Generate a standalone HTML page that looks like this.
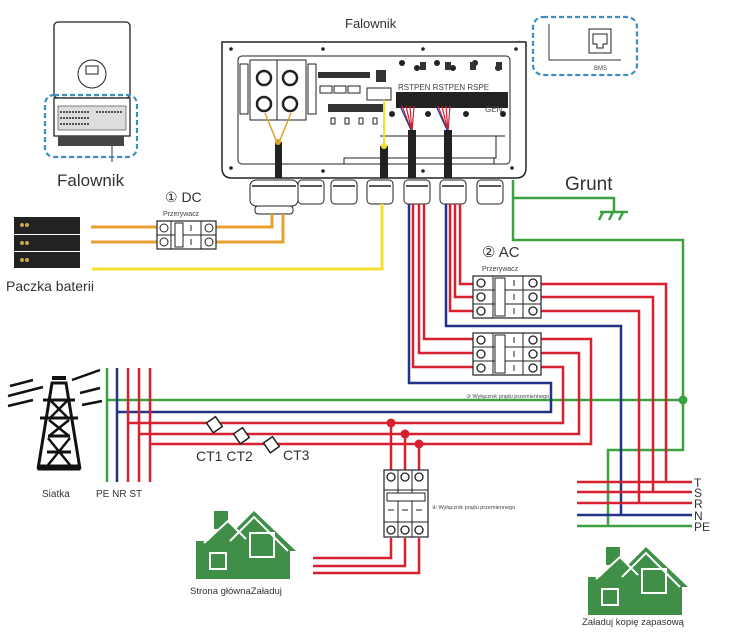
<!DOCTYPE html>
<html><head><meta charset="utf-8"><style>
html,body{margin:0;padding:0;background:#fff;}
svg{display:block;font-family:"Liberation Sans",sans-serif;}
</style></head><body>
<svg width="740" height="632" viewBox="0 0 740 632" xmlns="http://www.w3.org/2000/svg">
<defs>
<g id="brk3">
 <rect x="0" y="0" width="68" height="42" fill="#fff" stroke="#222" stroke-width="1.2"/>
 <line x1="0" y1="14" x2="68" y2="14" stroke="#222"/><line x1="0" y1="28" x2="68" y2="28" stroke="#222"/>
 <line x1="20" y1="0" x2="20" y2="42" stroke="#222"/><line x1="50" y1="0" x2="50" y2="42" stroke="#222"/>
 <rect x="22" y="2" width="10" height="38" fill="#fff" stroke="#222"/>
 <circle cx="8" cy="7" r="4" fill="none" stroke="#222" stroke-width="1.3"/><circle cx="8" cy="21" r="4" fill="none" stroke="#222" stroke-width="1.3"/><circle cx="8" cy="35" r="4" fill="none" stroke="#222" stroke-width="1.3"/>
 <circle cx="60" cy="7" r="4" fill="none" stroke="#222" stroke-width="1.3"/><circle cx="60" cy="21" r="4" fill="none" stroke="#222" stroke-width="1.3"/><circle cx="60" cy="35" r="4" fill="none" stroke="#222" stroke-width="1.3"/>
 <line x1="41" y1="4" x2="41" y2="10" stroke="#222"/><line x1="41" y1="18" x2="41" y2="24" stroke="#222"/><line x1="41" y1="32" x2="41" y2="38" stroke="#222"/>
</g>
<g id="house">
 <rect x="18" y="0" width="14" height="18" fill="#3f8f48"/>
 <polygon points="0,30 12,30 32,10 52,30 52,68 0,68" fill="#3f8f48"/>
 <polygon points="30,28 58,0 100,40 94,40 94,68 36,68 36,40 30,40" fill="#3f8f48"/>
 <polyline points="8,32 32,10 50,28" fill="none" stroke="#fff" stroke-width="2"/>
 <polyline points="34,30 58,6 92,40" fill="none" stroke="#fff" stroke-width="2"/>
 <rect x="14" y="42" width="16" height="16" fill="none" stroke="#fff" stroke-width="2"/>
 <rect x="54" y="22" width="24" height="24" fill="none" stroke="#fff" stroke-width="2"/>
</g>
</defs>

<!-- small inverter top-left -->
<rect x="54" y="22" width="76" height="76" rx="4" fill="#fff" stroke="#222" stroke-width="1.3"/>
<circle cx="92" cy="74" r="14" fill="none" stroke="#222"/>
<rect x="86" y="66" width="12" height="8" fill="none" stroke="#222"/>
<rect x="54" y="98" width="76" height="38" fill="#fff" stroke="#222" stroke-width="1.3"/>
<rect x="58" y="106" width="68" height="24" fill="#ddd" stroke="#333" stroke-width="0.6"/>
<path d="M60 112h30M60 118h30M60 124h30M96 112h26" stroke="#222" stroke-width="1.5" stroke-dasharray="2 1"/>
<rect x="58" y="136" width="66" height="10" fill="#444"/>
<line x1="112" y1="146" x2="112" y2="162" stroke="#333"/>
<rect x="45" y="95" width="92" height="62" rx="9" fill="none" stroke="#3c8fc0" stroke-width="2.2" stroke-dasharray="5 3"/>
<text x="57" y="186" font-size="17" fill="#333">Falownik</text>

<!-- battery -->
<rect x="14" y="217" width="66" height="17" fill="#222"/><rect x="14" y="235" width="66" height="16" fill="#222"/><rect x="14" y="252" width="66" height="16" fill="#222"/>
<circle cx="22" cy="225" r="2" fill="#c9a545"/><circle cx="27" cy="225" r="2" fill="#c9a545"/><circle cx="22" cy="243" r="2" fill="#c9a545"/><circle cx="27" cy="243" r="2" fill="#c9a545"/><circle cx="22" cy="260" r="2" fill="#c9a545"/><circle cx="27" cy="260" r="2" fill="#c9a545"/>
<text x="6" y="291" font-size="14" fill="#333">Paczka baterii</text>

<!-- main inverter -->
<text x="345" y="28" font-size="13" fill="#333">Falownik</text>
<polygon points="395,93 520,40 528,46 400,98" fill="#a8d4ec" opacity="0.8"/>
<path d="M222 42 H526 V168 Q526 178 516 178 H232 Q222 178 222 168 Z" fill="#fff" stroke="#222" stroke-width="1.5"/>
<rect x="238" y="56" width="272" height="108" rx="4" fill="#fff" stroke="#222"/>
<g fill="#222"><circle cx="231" cy="49" r="1.8"/><circle cx="323" cy="49" r="1.8"/><circle cx="423" cy="49" r="1.8"/><circle cx="516" cy="49" r="1.8"/><circle cx="231" cy="168" r="1.8"/><circle cx="323" cy="171" r="1.8"/><circle cx="423" cy="171" r="1.8"/><circle cx="512" cy="168" r="1.8"/></g>
<rect x="250" y="60" width="56" height="60" fill="#fff" stroke="#222"/>
<rect x="240" y="64" width="8" height="50" fill="#fff" stroke="#222"/><rect x="308" y="64" width="8" height="50" fill="#fff" stroke="#222"/>
<circle cx="264" cy="78" r="7" fill="none" stroke="#222" stroke-width="2.5"/><circle cx="290" cy="78" r="7" fill="none" stroke="#222" stroke-width="2.5"/>
<circle cx="264" cy="104" r="7" fill="none" stroke="#222" stroke-width="2.5"/><circle cx="290" cy="104" r="7" fill="none" stroke="#222" stroke-width="2.5"/>
<line x1="277" y1="60" x2="277" y2="120" stroke="#222"/>
<rect x="318" y="72" width="52" height="6" fill="#333"/><rect x="320" y="86" width="12" height="7" fill="none" stroke="#222"/><rect x="334" y="86" width="12" height="7" fill="none" stroke="#222"/><rect x="348" y="86" width="12" height="7" fill="none" stroke="#222"/>
<rect x="328" y="104" width="56" height="8" fill="#333"/>
<rect x="331" y="118" width="4" height="6" fill="none" stroke="#222"/><rect x="345" y="118" width="4" height="6" fill="none" stroke="#222"/><rect x="359" y="118" width="4" height="6" fill="none" stroke="#222"/><rect x="373" y="118" width="4" height="6" fill="none" stroke="#222"/>
<rect x="367" y="88" width="24" height="12" fill="none" stroke="#222"/>
<rect x="376" y="70" width="10" height="12" fill="#333"/>
<rect x="396" y="92" width="112" height="16" fill="#222"/>
<text x="398" y="90" font-size="8" fill="#444">RSTPEN RSTPEN RSPE</text>
<text x="485" y="112" font-size="8" fill="#444">GEN</text>
<g fill="#222"><circle cx="402" cy="63" r="3"/><circle cx="417" cy="68" r="3"/><circle cx="437" cy="63" r="3"/><circle cx="453" cy="68" r="3"/><circle cx="475" cy="63" r="3"/><circle cx="498" cy="68" r="3"/>
<circle cx="392" cy="114" r="3"/><circle cx="428" cy="114" r="3"/><circle cx="466" cy="114" r="3"/><circle cx="503" cy="114" r="3"/></g>
<rect x="420" y="62" width="6" height="8" fill="#333"/><rect x="445" y="62" width="6" height="8" fill="#333"/><rect x="470" y="62" width="6" height="8" fill="#333"/><rect x="496" y="62" width="6" height="8" fill="#333"/>
<line x1="380" y1="136" x2="505" y2="136" stroke="#222"/>
<rect x="384" y="136" width="112" height="22" fill="none" stroke="#222"/>
<rect x="344" y="158" width="150" height="6" fill="#fff" stroke="#222"/>
<path d="M265 113 L278 145 L291 113" fill="none" stroke="#e0a030" stroke-width="1.5"/>
<line x1="384" y1="100" x2="384" y2="145" stroke="#f0e030" stroke-width="2"/>
<path d="M402 106 L412 132 M406 106 L412 132 M410 106 L412 132 M414 106 L412 132 M438 106 L448 132 M442 106 L448 132 M446 106 L448 132 M450 106 L448 132" stroke="#d02030" stroke-width="1.2"/>
<path d="M400 106 L412 132 M436 106 L448 132" stroke="#223388" stroke-width="1.2"/>
<rect x="275" y="142" width="7" height="36" fill="#222"/><rect x="380" y="146" width="8" height="32" fill="#222"/><rect x="408" y="130" width="8" height="48" fill="#222"/><rect x="444" y="130" width="8" height="48" fill="#222"/>
<circle cx="278" cy="142" r="3" fill="#e0a030"/><circle cx="384" cy="146" r="3" fill="#f0e030"/>
<!-- glands -->
<g fill="#fff" stroke="#222">
<rect x="250" y="180" width="48" height="26" rx="6"/><rect x="255" y="206" width="38" height="8" rx="3"/>
<rect x="298" y="180" width="26" height="24" rx="4"/><rect x="331" y="180" width="26" height="24" rx="4"/>
<rect x="367" y="180" width="26" height="24" rx="4"/><rect x="404" y="180" width="26" height="24" rx="4"/>
<rect x="440" y="180" width="26" height="24" rx="4"/><rect x="477" y="180" width="26" height="24" rx="4"/>
</g>
<path d="M300 186h22M333 186h22M369 186h22M406 186h22M442 186h22M479 186h22M252 186h44" stroke="#222" stroke-width="1.5"/>

<!-- BMS -->
<rect x="533" y="17" width="104" height="58" rx="10" fill="#fff" stroke="#3c8fc0" stroke-width="2.2" stroke-dasharray="5 3"/>
<path d="M549 24 V60 H621" fill="none" stroke="#333"/>
<rect x="589" y="29" width="22" height="24" fill="#fff" stroke="#222"/>
<path d="M593 34 h14 v10 h-4 v4 h-6 v-4 h-4z" fill="none" stroke="#222"/>
<text x="594" y="70" font-size="6" fill="#444">BMS</text>

<!-- DC breaker -->
<text x="165" y="202" font-size="14" fill="#333">① DC</text>
<text x="163" y="216" font-size="7" fill="#444">Przerywacz</text>
<g stroke="#e8a030" stroke-width="3" fill="none">
<line x1="91" y1="227" x2="157" y2="227"/><line x1="91" y1="242" x2="157" y2="242"/>
<polyline points="216,227 272,227 272,214"/><polyline points="216,242 283,242 283,214"/>
</g>
<polyline points="92,269 382,269 382,204" fill="none" stroke="#f2e030" stroke-width="3"/>
<g transform="translate(157,221)">
<rect x="0" y="0" width="59" height="28" fill="#fff" stroke="#222" stroke-width="1.2"/>
<line x1="0" y1="14" x2="59" y2="14" stroke="#222"/>
<line x1="14" y1="0" x2="14" y2="28" stroke="#222"/><line x1="44" y1="0" x2="44" y2="28" stroke="#222"/>
<rect x="18" y="2" width="8" height="24" fill="#fff" stroke="#222"/>
<circle cx="7" cy="7" r="4" fill="none" stroke="#222"/><circle cx="7" cy="21" r="4" fill="none" stroke="#222"/>
<circle cx="52" cy="7" r="4" fill="none" stroke="#222"/><circle cx="52" cy="21" r="4" fill="none" stroke="#222"/>
<line x1="34" y1="4" x2="34" y2="10" stroke="#222"/><line x1="34" y1="18" x2="34" y2="24" stroke="#222"/>
</g>

<!-- Grunt -->
<text x="565" y="190" font-size="19" fill="#333">Grunt</text>
<g stroke="#3aa040" stroke-width="2.5" fill="none">
<polyline points="513,180 513,240 683,240 683,450 608,450 608,526"/>
<polyline points="513,198 614,198 614,212"/>
<line x1="600" y1="212" x2="628" y2="212"/>
<line x1="603" y1="212" x2="599" y2="220"/><line x1="613" y1="212" x2="609" y2="220"/><line x1="623" y1="212" x2="619" y2="220"/>
<polyline points="107,368 107,482"/>
<line x1="107" y1="400" x2="683" y2="400"/>
<line x1="577" y1="526" x2="692" y2="526"/>
</g>
<circle cx="683" cy="400" r="4.5" fill="#3aa040"/>

<!-- blue wires -->
<g stroke="#223388" stroke-width="2.5" fill="none">
<polyline points="117,368 117,482"/>
<polyline points="117,412 551,412 551,383 409,383 409,204"/>
<polyline points="446,204 446,326 621,326 621,515"/>
<line x1="577" y1="515" x2="692" y2="515"/>
</g>

<!-- red wires -->
<g stroke="#d8202e" stroke-width="2.5" fill="none">
<line x1="128" y1="368" x2="128" y2="482"/><line x1="139" y1="368" x2="139" y2="482"/><line x1="150" y1="368" x2="150" y2="482"/>
<polyline points="128,423 563,423 563,367 541,367"/>
<polyline points="139,434 579,434 579,353 541,353"/>
<polyline points="150,444 591,444 591,339 541,339"/>
<polyline points="424,204 424,339 473,339"/>
<polyline points="419,204 419,353 473,353"/>
<polyline points="413,204 413,367 473,367"/>
<polyline points="460,204 460,284 473,284"/>
<polyline points="455,204 455,297 473,297"/>
<polyline points="450,204 450,311 473,311"/>
<polyline points="541,284 666,284 666,482"/>
<polyline points="541,297 653,297 653,492"/>
<polyline points="541,311 639,311 639,503"/>
<line x1="577" y1="482" x2="692" y2="482"/><line x1="577" y1="492" x2="692" y2="492"/><line x1="577" y1="503" x2="692" y2="503"/>
<line x1="391" y1="423" x2="391" y2="475"/><line x1="405" y1="434" x2="405" y2="475"/><line x1="419" y1="444" x2="419" y2="475"/>
<polyline points="391,538 391,558 313,558"/><polyline points="405,538 405,566 313,566"/><polyline points="419,538 419,573 313,573"/>
</g>
<circle cx="391" cy="423" r="4.5" fill="#d8202e"/><circle cx="405" cy="434" r="4.5" fill="#d8202e"/><circle cx="419" cy="444" r="4.5" fill="#d8202e"/>

<use href="#brk3" x="473" y="276"/>
<use href="#brk3" x="473" y="333"/>
<text x="482" y="257" font-size="15" fill="#333">② AC</text>
<text x="482" y="271" font-size="7" fill="#444">Przerywacz</text>
<text x="466" y="398" font-size="5.5" fill="#444">③ Wyłącznik prądu przemiennego</text>

<!-- breaker 4 -->
<g transform="translate(384,470)">
<rect x="0" y="0" width="44" height="67" fill="#fff" stroke="#222" stroke-width="1.2"/>
<circle cx="7" cy="7" r="4" fill="none" stroke="#222" stroke-width="1.3"/><circle cx="21" cy="7" r="4" fill="none" stroke="#222" stroke-width="1.3"/><circle cx="35" cy="7" r="4" fill="none" stroke="#222" stroke-width="1.3"/>
<circle cx="7" cy="60" r="4" fill="none" stroke="#222" stroke-width="1.3"/><circle cx="21" cy="60" r="4" fill="none" stroke="#222" stroke-width="1.3"/><circle cx="35" cy="60" r="4" fill="none" stroke="#222" stroke-width="1.3"/>
<line x1="14" y1="0" x2="14" y2="67" stroke="#222"/><line x1="28" y1="0" x2="28" y2="67" stroke="#222"/>
<line x1="0" y1="20" x2="44" y2="20" stroke="#222"/><line x1="0" y1="52" x2="44" y2="52" stroke="#222"/>
<rect x="3" y="23" width="38" height="8" fill="#fff" stroke="#222"/>
<path d="M4 40h6M18 40h6M32 40h6" stroke="#222"/>
</g>
<text x="432" y="509" font-size="5.5" fill="#444">④ Wyłącznik prądu przemiennego</text>

<!-- CTs -->
<g fill="#fff" stroke="#222" stroke-width="1.5">
<rect x="209" y="419" width="11" height="12" transform="rotate(-35 214 425)"/>
<rect x="236" y="430" width="11" height="12" transform="rotate(-35 241 436)"/>
<rect x="266" y="439" width="11" height="12" transform="rotate(-35 271 445)"/>
</g>
<text x="196" y="461" font-size="14" fill="#333">CT1 CT2</text>
<text x="283" y="460" font-size="14" fill="#333">CT3</text>

<!-- tower -->
<g stroke="#111" fill="none">
<path d="M38 469 L52 383 H66 L80 469" stroke-width="3"/>
<rect x="38" y="465" width="42" height="5" fill="#111"/>
<path d="M43 400 H75 M40 418 H78 M48 436 H70 M47 452 H71" stroke-width="3"/>
<path d="M50 400 L68 418 M68 400 L50 418 M49 420 L69 436 M69 420 L49 436 M48 438 L70 465 M70 438 L48 465" stroke-width="2.5"/>
<path d="M52 378 H66" stroke-width="4"/>
<path d="M10 386 L33 380 M8 396 L43 387 M8 406 L33 400 M72 380 L100 370 M80 393 L100 388 M82 405 L102 401" stroke-width="2.5"/>
</g>
<text x="42" y="497" font-size="10" fill="#333">Siatka</text>
<text x="96" y="497" font-size="10" fill="#333">PE NR ST</text>

<g font-size="12" fill="#333">
<text x="694" y="487">T</text><text x="694" y="497">S</text><text x="694" y="508">R</text><text x="694" y="520">N</text><text x="694" y="531">PE</text>
</g>

<use href="#house" x="196" y="511"/>
<use href="#house" x="588" y="547"/>
<text x="190" y="594" font-size="9.5" fill="#333">Strona głównaZaładuj</text>
<text x="582" y="625" font-size="9.5" fill="#333">Załaduj kopię zapasową</text>
</svg>
</body></html>
